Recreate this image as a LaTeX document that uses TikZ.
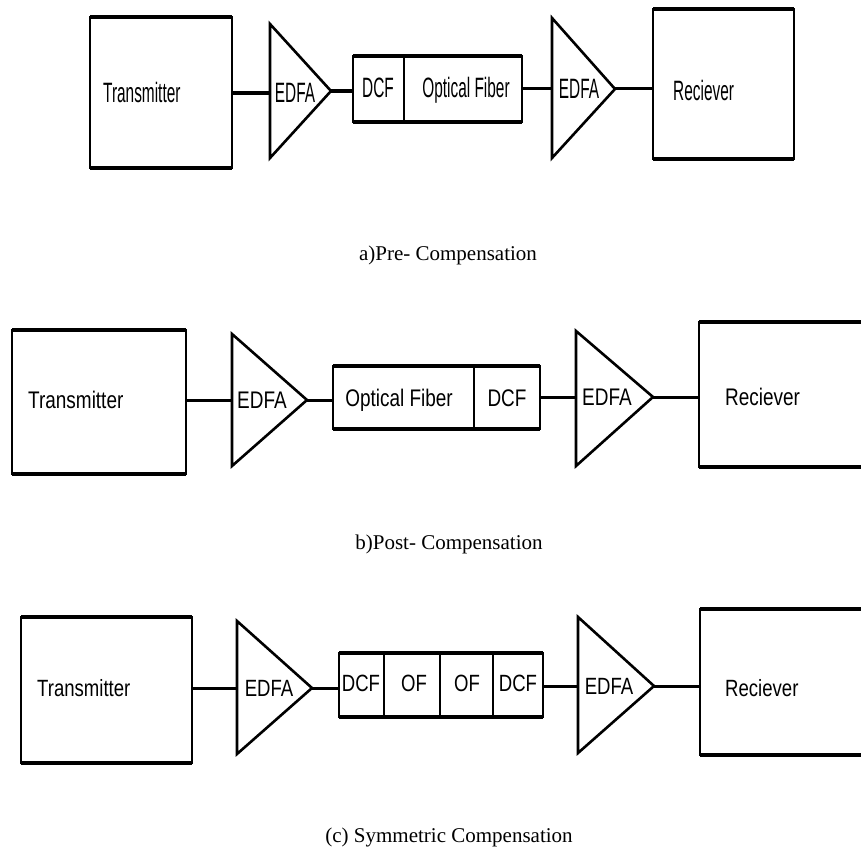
\documentclass[tikz,border=0pt]{standalone}
\usepackage{fontspec}
\setmainfont{Liberation Serif}
\newfontfamily\lfa[FakeStretch=0.55]{Liberation Sans}
\newfontfamily\lfb[FakeStretch=0.79]{Liberation Sans}
\usetikzlibrary{fit}
\begin{document}
\begin{tikzpicture}[x=1pt,y=-1pt,
  blk/.style={draw, line width=2pt, inner sep=0pt, outer sep=0pt},
  edge/.style={line width=3.2pt, line cap=square},
  divider/.style={line width=2pt},
  tri/.style={draw, line width=2.6pt},
  conn/.style={line width=3pt},
  conna/.style={line width=3.8pt},
  laba/.style={inner sep=0pt, font=\lfa\fontsize{28pt}{30pt}\selectfont, text height=20pt, text depth=0pt},
  labb/.style={inner sep=0pt, font=\lfb\fontsize{24pt}{26pt}\selectfont, text height=17pt, text depth=0pt},
  labc/.style={inner sep=0pt, font=\lfb\fontsize{23.5pt}{25pt}\selectfont, text height=17pt, text depth=0pt},
  capt/.style={inner sep=0pt, anchor=base, font=\fontsize{21pt}{24pt}\selectfont}]
\useasboundingbox (0,0) rectangle (861,850);
\clip (0,0) rectangle (861,850);

% ---------------- (a) Pre-compensation ----------------
\node[blk, fit={(90,17) (232,168)}] (txa) {};
\draw[edge] (txa.north west) -- (txa.north east) (txa.south west) -- (txa.south east);
\node[laba, anchor=west] (txat) at (103,93) {Transmitter};

\draw[tri] (270,24) -- (331,91) -- (270,158) -- cycle;
\coordinate (ea1in) at (270,93);
\coordinate (ea1tip) at (331,91);
\node[laba] (ea1t) at (295,93) {EDFA};

\node[blk, fit={(353,56) (522,122)}] (boxa) {};
\draw[edge] (boxa.north west) -- (boxa.north east) (boxa.south west) -- (boxa.south east);
\draw[divider] (404,0 |- boxa.north) -- (404,0 |- boxa.south);
\node[laba] (dcfa) at (378,88) {DCF};
\node[laba] (ofa) at (466,88) {Optical Fiber};

\draw[tri] (552,18) -- (615,89) -- (552,158) -- cycle;
\coordinate (ea2in) at (552,89);
\coordinate (ea2tip) at (615,89);
\node[laba] (ea2t) at (579,89) {EDFA};

\node[blk, fit={(653,9) (794,159)}] (rxa) {};
\draw[edge] (rxa.north west) -- (rxa.north east) (rxa.south west) -- (rxa.south east);
\node[laba, anchor=west] (rxat) at (673,91) {Reciever};

\draw[conna] (txa.east |- ea1in) -- (ea1in);
\draw[conna] (ea1tip) -- (ea1tip -| boxa.west);
\draw[conn] (boxa.east |- ea2in) -- (ea2in);
\draw[conn] (ea2tip) -- (ea2tip -| rxa.west);

\node[capt] (capa) at (448,260.5) {a)Pre- Compensation};

% ---------------- (b) Post-compensation ----------------
\node[blk, fit={(12,330) (186,474)}] (txb) {};
\draw[edge] (txb.north west) -- (txb.north east) (txb.south west) -- (txb.south east);
\node[labb, anchor=west] (txbt) at (28,400) {Transmitter};

\draw[tri] (232,334) -- (307,400) -- (232,466) -- cycle;
\coordinate (ea3in) at (232,400);
\coordinate (ea3tip) at (307,400);
\node[labb] (ea3t) at (262,400) {EDFA};

\node[blk, fit={(333,366) (540,429)}] (boxb) {};
\draw[edge] (boxb.north west) -- (boxb.north east) (boxb.south west) -- (boxb.south east);
\draw[divider] (474,0 |- boxb.north) -- (474,0 |- boxb.south);
\node[labb] (ofb) at (399,398) {Optical Fiber};
\node[labb] (dcfb) at (507,398) {DCF};

\draw[tri] (576,331) -- (653,397) -- (576,466) -- cycle;
\coordinate (ea4in) at (576,397);
\coordinate (ea4tip) at (653,397);
\node[labb] (ea4t) at (607,397) {EDFA};

\node[blk, fit={(699,322) (880,467)}] (rxb) {};
\draw[edge] (rxb.north west) -- (rxb.north east) (rxb.south west) -- (rxb.south east);
\node[labb, anchor=west] (rxbt) at (725,397) {Reciever};

\draw[conn] (txb.east |- ea3in) -- (ea3in);
\draw[conn] (ea3tip) -- (ea3tip -| boxb.west);
\draw[conn] (boxb.east |- ea4in) -- (ea4in);
\draw[conn] (ea4tip) -- (ea4tip -| rxb.west);

\node[capt] (capb) at (449,549) {b)Post- Compensation};

% ---------------- (c) Symmetric compensation ----------------
\node[blk, fit={(21,617) (192,763)}] (txc) {};
\draw[edge] (txc.north west) -- (txc.north east) (txc.south west) -- (txc.south east);
\node[labc, anchor=west] (txct) at (37,688) {Transmitter};

\draw[tri] (237,621) -- (312,688) -- (237,754) -- cycle;
\coordinate (ea5in) at (237,688);
\coordinate (ea5tip) at (312,688);
\node[labc] (ea5t) at (269,688) {EDFA};

\node[blk, fit={(339,653) (543,717)}] (boxc) {};
\draw[edge] (boxc.north west) -- (boxc.north east) (boxc.south west) -- (boxc.south east);
\draw[divider] (384,0 |- boxc.north) -- (384,0 |- boxc.south);
\draw[divider] (440,0 |- boxc.north) -- (440,0 |- boxc.south);
\draw[divider] (493,0 |- boxc.north) -- (493,0 |- boxc.south);
\node[labc] (dcfc1) at (361,683) {DCF};
\node[labc] (ofc1) at (414,683) {OF};
\node[labc] (ofc2) at (467,683) {OF};
\node[labc] (dcfc2) at (518,683) {DCF};

\draw[tri] (578,617) -- (654,686) -- (578,753) -- cycle;
\coordinate (ea6in) at (578,686);
\coordinate (ea6tip) at (654,686);
\node[labc] (ea6t) at (609,686) {EDFA};

\node[blk, fit={(700,609) (880,755)}] (rxc) {};
\draw[edge] (rxc.north west) -- (rxc.north east) (rxc.south west) -- (rxc.south east);
\node[labc, anchor=west] (rxct) at (725,688) {Reciever};

\draw[conn] (txc.east |- ea5in) -- (ea5in);
\draw[conn] (ea5tip) -- (ea5tip -| boxc.west);
\draw[conn] (boxc.east |- ea6in) -- (ea6in);
\draw[conn] (ea6tip) -- (ea6tip -| rxc.west);

\node[capt] (capc) at (449,842) {(c) Symmetric Compensation};
\end{tikzpicture}
\end{document}
